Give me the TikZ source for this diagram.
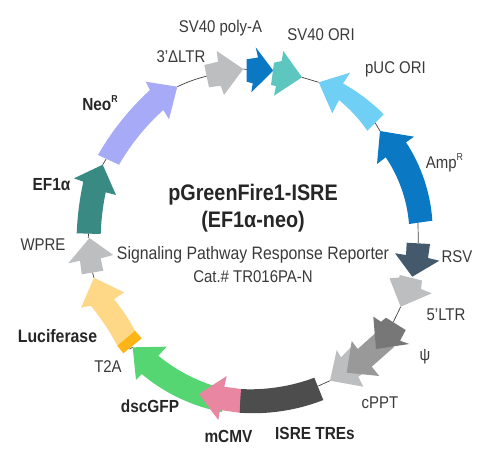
\documentclass[tikz,border=0pt]{standalone}
\usepackage{fontspec}
\setmainfont[FakeStretch=0.88]{Liberation Sans}
\definecolor{cgrey}{HTML}{BCBEC0}
\definecolor{cblue}{HTML}{0A78C2}
\definecolor{cteal}{HTML}{5CC6BF}
\definecolor{csky}{HTML}{6FCFF5}
\definecolor{cslate}{HTML}{445A6C}
\definecolor{cdark}{HTML}{777777}
\definecolor{cmid}{HTML}{999999}
\definecolor{cisre}{HTML}{4D4D4D}
\definecolor{cpink}{HTML}{E987A3}
\definecolor{cgreen}{HTML}{55D673}
\definecolor{cluc}{HTML}{FED886}
\definecolor{corange}{HTML}{FDB515}
\definecolor{cef}{HTML}{3A8A84}
\definecolor{cneo}{HTML}{A6AAF7}
\definecolor{ctext}{HTML}{3A3A3A}
\tikzset{
  lab/.style={font=\fontsize{17}{20}\selectfont,text=ctext,inner sep=0pt},
  blab/.style={font=\fontsize{17.5}{20}\selectfont\bfseries,text=black!85,inner sep=0pt},
  ttl/.style={font=\fontsize{22.5}{26}\selectfont\bfseries,text=black!85,inner sep=0pt},
  link/.style={draw=black!75,line width=0.7pt},
  arcl/.style={bend left=#1,looseness=0.85},
  arcr/.style={bend right=#1,looseness=0.85}
}
\newcommand{\supr}[1]{\raisebox{0.45em}{\fontsize{10}{10}\selectfont #1}}
\begin{document}
\begin{tikzpicture}[x=1pt,y=-1pt]
\useasboundingbox (0,0) rectangle (494,453);
% free connector ends
\coordinate (neotip) at (177.3,86.7);
\coordinate (ltrtail) at (207,76);
\coordinate (ltrtip) at (243.3,69);
\coordinate (polytail) at (246.7,69.5);
\coordinate (oritip) at (302,77.3);
\coordinate (puctip) at (318.7,82.3);
\coordinate (puctail) at (375,122.5);
\coordinate (amptip) at (380,131);
\coordinate (amptail) at (418,222.5);
\coordinate (rsvtail) at (418.3,243);
\coordinate (fivetip) at (400.7,306.7);
\coordinate (psitail) at (393.3,322);
\coordinate (lgtip) at (330,380.7);
\coordinate (isretail) at (318.3,386);
\coordinate (t2atail) at (129.5,349);
\coordinate (gfptip) at (132.7,347.3);
\coordinate (luctip) at (94,277.7);
\coordinate (wpretail) at (92.5,272.5);
\coordinate (wpretip) at (88.3,238);
\coordinate (eftail) at (88.5,233.5);
\coordinate (eftip) at (102.7,164.7);
\coordinate (neotail) at (106,159.3);
% connectors
\draw[link] (neotip) to[bend left=5] (ltrtail);
\draw[link] (ltrtip) -- (polytail);
\draw[link] (oritip) -- (puctip);
\draw[link] (puctail) -- (amptip);
\draw[link] (amptail) -- (rsvtail);
\draw[link] (fivetip) -- (psitail);
\draw[link] (lgtip) -- (isretail);
\draw[link] (t2atail) -- (gfptip);
\draw[link] (luctip) -- (wpretail);
\draw[link] (wpretip) -- (eftail);
\draw[link] (eftip) -- (neotail);
% green under pink
\fill[cgreen] (132.7,347.3) -- (166.7,346.7) -- (158.3,355.7) to[arcr=13] (225,389) -- (222,412) to[arcl=15] (141.7,374) -- (136,380) -- cycle;
% light grey, mid grey, dark grey
\fill[cgrey] (330,380.7) -- (336.7,350) -- (341,357.3) -- (352,346) -- (372,368) -- (358.3,376.7) -- (363.3,386.7) -- cycle;
\fill[cmid] (346.7,372.7) -- (351.7,341) -- (357.7,349) -- (380,329) -- (394,347) -- (371.7,366.7) -- (379.3,376) -- cycle;
\fill[cdark] (373.3,316.7) -- (381,321.7) -- (386,317.7) -- (405.7,330) -- (400,340.7) -- (409.3,344) -- (376,349) -- cycle;
% grey 5'LTR
\fill[cgrey] (389.5,278.3) -- (399,277.5) -- (400,275) -- (422,280.5) -- (421,289) -- (431.7,293.3) -- (400.7,306.7) -- cycle;
% RSV
\fill[cslate] (406.7,242.7) -- (430,244) -- (428,258) -- (439.3,260.7) -- (412.3,276.7) -- (395,253.3) -- (406,255) -- cycle;
% Amp
\fill[cblue] (380,131) -- (414,136.7) -- (406,142.3) to[arcl=15] (432.3,220.7) -- (409,224) to[arcr=15] (385.7,157.3) -- (377,164) -- cycle;
% pUC
\fill[csky] (318.7,82.3) -- (350,72.7) -- (343,83.5) to[arcl=8] (383.7,114.3) -- (367.3,130.7) to[arcr=8] (339,100) -- (332.3,113.3) -- cycle;
% 3'LTR
\fill[cgrey] (204.3,65) -- (218,61.7) -- (216.7,51) -- (243.3,69) -- (224,95) -- (220.7,85.7) -- (209,87.3) -- cycle;
% poly-A
\fill[cblue] (246.7,59.3) -- (258,57.5) -- (255.7,47.3) -- (273.3,70.7) -- (251.3,92.3) -- (252.7,83.3) -- (246.7,81.7) -- cycle;
% SV40 ORI
\fill[cteal] (274,62.7) -- (281.7,61) -- (283.3,51) -- (302,77.3) -- (274,95.7) -- (276,86) -- (271,85) -- cycle;
% ISRE
\fill[cisre] (240,389) to[arcr=12] (314.3,377.7) -- (323.3,400) to[arcl=13] (239.3,412.7) -- cycle;
% mCMV
\fill[cpink] (199,394) -- (226.7,376) -- (224.3,386.7) -- (241,389) -- (239.3,412.7) -- (220,410) -- (218.3,420) -- cycle;
% Luciferase and T2A
\fill[cluc] (94,277.7) -- (124,292.3) -- (114,299.3) to[arcl=6] (135,330.7) -- (117.3,345.7) to[arcr=6] (90.7,305.7) -- (81,307.7) -- cycle;
\fill[corange] (135,330.7) -- (141.7,338.3) -- (123.3,353.3) -- (117.3,345.7) -- cycle;
% WPRE
\fill[cgrey] (89.5,238) -- (113.3,255) -- (100.7,258.3) -- (103.3,270.7) -- (81.7,274.3) -- (80,260.7) -- (68.3,263.3) -- cycle;
% EF1a
\fill[cef] (102.7,164.7) -- (116,195) -- (105.7,192.3) to[arcr=5] (100.7,234) -- (76.7,233.3) to[arcl=5] (83.3,181.7) -- (74,178.3) -- cycle;
% Neo
\fill[cneo] (177.3,86.7) -- (169,119.3) -- (163.3,110) to[arcr=9] (119,164.7) -- (98,155) to[arcl=9] (150,90) -- (145.7,81.7) -- cycle;
% labels
\node[lab] (lpoly) at (220.5,28) {SV40 poly-A};
\node[lab] (lltr3) at (181,57) {3’ΔLTR};
\node[lab] (lori) at (321,35) {SV40 ORI};
\node[lab] (lpuc) at (395.5,69) {pUC ORI};
\node[lab] (lamp) at (444.5,163) {Amp\supr{R}};
\node[lab] (lrsv) at (457,257) {RSV};
\node[lab] (lltr5) at (446,315) {5’LTR};
\node[lab] (lpsi) at (425,357) {ψ};
\node[lab] (lcppt) at (380,403) {cPPT};
\node[blab] (lisre) at (315,433) {ISRE TREs};
\node[blab] (lcmv) at (228.5,436) {mCMV};
\node[blab] (lgfp) at (150,406) {dscGFP};
\node[lab] (lt2a) at (108,367) {T2A};
\node[blab,font=\fontsize{18}{20}\selectfont\bfseries] (lluc) at (57.5,336) {Luciferase};
\node[lab] (lwpre) at (43,245) {WPRE};
\node[blab] (lef) at (51.5,185) {EF1α};
\node[blab] (lneo) at (100,103) {Neo\supr{R}};
\node[ttl] (t1) at (253,195) {pGreenFire1-ISRE};
\node[ttl] (t2) at (253,222) {(EF1α-neo)};
\node[lab,font=\fontsize{18}{20}\selectfont] (t3) at (253,255) {Signaling Pathway Response Reporter};
\node[lab] (t4) at (253,277) {Cat.\# TR016PA-N};
\end{tikzpicture}
\end{document}
